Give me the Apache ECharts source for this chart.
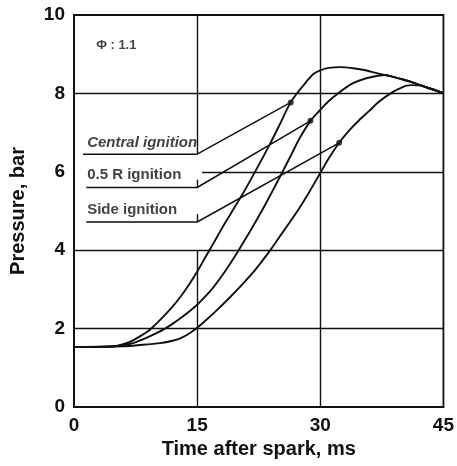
<!DOCTYPE html>
<html><head><meta charset="utf-8">
<script src="https://cdn.jsdelivr.net/npm/echarts@6/dist/echarts.min.js"></script>
<style>html,body{margin:0;padding:0;background:#fff}#c{width:457px;height:466px}</style>
</head><body><div id="c"></div>
<script>
// Axis ticks
const xTicks = [0, 15, 30, 45];
const yTicks = [0, 2, 4, 6, 8, 10];

// Pressure curves [time ms, pressure bar]
const centralIgnition = [[0,1.53],[3,1.53],[5,1.55],[6,1.6],[7,1.68],[8,1.8],[9,1.93],[10,2.12],[11,2.33],[12,2.56],[13,2.82],[14,3.12],[15,3.45],[16,3.82],[17,4.18],[18,4.55],[19,4.9],[20.5,5.42],[22,5.98],[23.8,6.68],[25,7.18],[26.3,7.74],[27.3,8.04],[28,8.22],[28.6,8.37],[29.2,8.5],[30,8.59],[31,8.65],[32.5,8.67],[34,8.64],[35.5,8.59],[37,8.51],[37.9,8.47],[38.5,8.44],[40,8.36],[41.5,8.26],[42.3,8.2],[43,8.15],[44,8.08],[45,8.0]];
const halfRIgnition = [[0,1.53],[5,1.55],[7,1.62],[9,1.78],[10,1.88],[11.1,2.0],[12,2.12],[13,2.27],[14,2.43],[15,2.61],[16,2.82],[17,3.06],[18,3.34],[19,3.65],[20,3.98],[21.5,4.5],[23,5.05],[24.2,5.52],[25.4,6.0],[26.5,6.45],[27.5,6.86],[28.8,7.3],[30,7.58],[31,7.8],[32.3,8.02],[33.2,8.16],[34,8.26],[35.5,8.38],[37,8.45],[37.9,8.47],[38.5,8.44],[40,8.36],[41.5,8.26],[42.3,8.2],[43,8.15],[44,8.08],[45,8.0]];
const sideIgnition = [[0,1.53],[6,1.55],[8,1.58],[10.5,1.63],[12,1.69],[13,1.76],[14,1.87],[15,2.02],[16,2.2],[17.6,2.51],[19,2.8],[20.5,3.13],[22,3.48],[23.8,3.97],[25,4.33],[26,4.63],[27.4,5.06],[28.7,5.5],[30,5.97],[31,6.33],[32.3,6.74],[33.5,7.05],[34.7,7.31],[36,7.56],[37.1,7.78],[38.7,8.02],[39.9,8.15],[41,8.21],[42.3,8.2],[43,8.15],[44,8.08],[45,8.0]];

// Annotation labels
const labelNames = ['Central ignition', '0.5 R ignition', 'Side ignition'];
const labelItalic = [true, false, false];
const labelAnchors = [[1.6, 6.73], [1.6, 5.92], [1.6, 5.03]];
const underlineStarts = [[1.1, 6.45], [1.5, 5.6], [1.5, 4.72]];
const leaderBendX = 15;
const leaderEnds = [[26.4, 7.77], [28.8, 7.3], [32.3, 6.74]];
const phiText = 'Φ : 1.1';
const phiAnchor = [2.7, 9.23];

const FONT = '"Liberation Sans", Arial, Helvetica, sans-serif';
const black = '#111';

// Grid lines (x=15 line is interrupted behind the labels, y=6 line starts after x=15)
const gridSegments = [
  [[15, 0], [15, 4]],
  [[15, underlineStarts[2][1]], [15, underlineStarts[2][1] + 0.2]],
  [[15, underlineStarts[1][1]], [15, underlineStarts[1][1] + 0.2]],
  [[15, underlineStarts[0][1]], [15, 10]],
  [[30, 0], [30, 10]],
  [[0, 2], [45, 2]],
  [[0, 4], [45, 4]],
  [[15.6, 6], [45, 6]],
  [[0, 8], [45, 8]]
];

const chart = echarts.init(document.getElementById('c'), null, {renderer: 'canvas'});

const curveSeries = [centralIgnition, halfRIgnition, sideIgnition].map((d, i) => ({
  type: 'line', name: labelNames[i], data: d, smooth: 0.3, showSymbol: false,
  lineStyle: {color: black, width: 1.9}, silent: true, z: 3
}));

const leaderSeries = labelNames.map((n, i) => ({
  type: 'line', data: [underlineStarts[i], [leaderBendX, underlineStarts[i][1]], leaderEnds[i]],
  showSymbol: false, lineStyle: {color: black, width: 1.5}, silent: true, z: 3
}));

const option = {
  animation: false,
  backgroundColor: '#fff',
  grid: {left: 73, right: 11, top: 15, bottom: 59, show: true, borderColor: black, borderWidth: 1.8, backgroundColor: 'transparent'},
  xAxis: {
    type: 'value', min: xTicks[0], max: xTicks[xTicks.length - 1], interval: 15,
    axisLine: {show: true, lineStyle: {color: black, width: 1.8}},
    axisTick: {show: false}, splitLine: {show: false},
    axisLabel: {color: black, fontSize: 19, fontWeight: 'bold', fontFamily: FONT, margin: 9},
    name: 'Time after spark, ms', nameLocation: 'middle', nameGap: 30,
    nameTextStyle: {color: black, fontSize: 20, fontWeight: 'bold', fontFamily: FONT}
  },
  yAxis: {
    type: 'value', min: yTicks[0], max: yTicks[yTicks.length - 1], interval: 2,
    axisLine: {show: true, lineStyle: {color: black, width: 1.8}},
    axisTick: {show: false}, splitLine: {show: false},
    axisLabel: {color: black, fontSize: 19, fontWeight: 'bold', fontFamily: FONT, margin: 9},
    name: 'Pressure, bar', nameLocation: 'middle', nameGap: 46,
    nameTextStyle: {color: black, fontSize: 20, fontWeight: 'bold', fontFamily: FONT}
  },
  series: [
    {
      type: 'line', data: [], silent: true,
      markLine: {
        silent: true, symbol: 'none', animation: false,
        lineStyle: {color: black, width: 1.4, type: 'solid'},
        label: {show: false},
        data: gridSegments.map(s => [{coord: s[0]}, {coord: s[1]}])
      }
    },
    ...curveSeries,
    ...leaderSeries,
    {
      type: 'scatter', data: leaderEnds, symbol: 'circle', symbolSize: 6,
      itemStyle: {color: black}, silent: true, z: 4
    },
    {
      type: 'scatter', symbolSize: 0, silent: true, z: 5,
      data: labelAnchors.map((p, i) => ({
        value: p, name: labelNames[i],
        label: {fontStyle: labelItalic[i] ? 'italic' : 'normal'}
      })),
      label: {
        show: true, position: 'right', distance: 0, formatter: p => p.name,
        color: black, fontSize: 15, fontWeight: 'bold', fontFamily: FONT, verticalAlign: 'middle'
      }
    },
    {
      type: 'scatter', symbolSize: 0, silent: true, z: 5,
      data: [{value: phiAnchor, name: phiText}],
      label: {
        show: true, position: 'right', distance: 0, formatter: p => p.name,
        color: black, fontSize: 13, fontWeight: 'bold', fontFamily: FONT, verticalAlign: 'middle'
      }
    }
  ]
};
chart.setOption(option);
</script>
</body></html>
